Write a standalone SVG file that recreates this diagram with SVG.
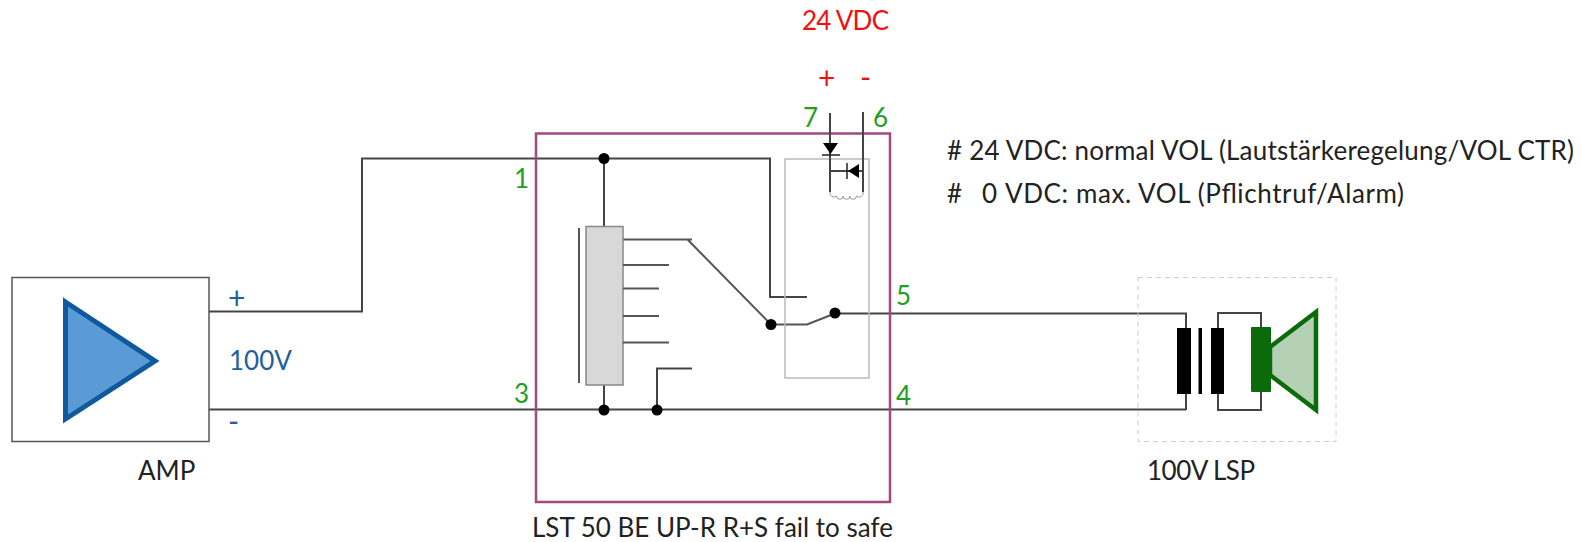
<svg xmlns="http://www.w3.org/2000/svg" width="1581" height="542" viewBox="0 0 1581 542">
<style>
text{font-family:"Lato","Carlito","Liberation Sans",sans-serif;font-size:26px;fill:#222}
.g{fill:#1ea01e}.r{fill:#f01010}.b{fill:#1f5f9f}
.big{font-size:30px}
.w{fill:none;stroke:#444;stroke-width:2}
.t{fill:none;stroke:#555;stroke-width:2}
.d{fill:#000}
</style>
<rect width="1581" height="542" fill="#fff"/>
<g id="connectors">
<path class="w" d="M209 311.500H362V158.500H770V297H807"/>
<path class="w" d="M209 409.500H1186"/>
<path class="w" d="M835 313.500H1186V328"/>
<path class="w" d="M1186 394V410"/>
<path class="w" d="M604 158.500V227"/>
<path class="w" d="M604 385V410"/>
<path class="w" d="M657 410V368.500H692"/>
<path class="t" d="M623 239.500H692M688 240L771 324.500H807L835 313.500"/>
<path class="w" d="M1218 328V313H1261V327M1218 394V410H1261V392"/>
<circle class="d" cx="604" cy="158.500" r="5.500"/>
<circle class="d" cx="604" cy="410" r="5.500"/>
<circle class="d" cx="657" cy="410" r="5.500"/>
<circle class="d" cx="771" cy="324.500" r="5.500"/>
<circle class="d" cx="835" cy="313" r="5.500"/>
</g>
<g id="amp">
<rect x="12" y="277.500" width="197" height="164" fill="#fff" stroke="#555" stroke-width="1.500"/>
<polygon points="65.500,302 155,361 65.500,419" fill="#5b9bd5" stroke="#0f5a9e" stroke-width="5"/>
<text x="138" y="480">AMP</text>
<text class="b big" x="228" y="309">+</text>
<text class="b" x="229" y="370">100V</text>
<text class="b big" x="228" y="432">-</text>
</g>
<g id="module">
<rect x="536" y="133.500" width="354" height="368.500" fill="none" stroke="#a3487e" stroke-width="2.500"/>
<text x="532" y="537">LST 50 BE UP-R R+S fail to safe</text>
<text class="g" x="514" y="188">1</text>
<text class="g" x="514" y="403">3</text>
<text class="g" x="896" y="305">5</text>
<text class="g" x="896" y="405">4</text>
</g>
<g id="contacts">
<rect x="586" y="226.500" width="37" height="158.500" fill="#d8d8d8" stroke="#888" stroke-width="1.500"/>
<path class="t" d="M579 228V383M623 265H669M623 288.500H659M623 316H659M623 342.500H669"/>
</g>
<g id="relay">
<rect x="785" y="159" width="84" height="219" fill="none" stroke="#bbb" stroke-width="1.500"/>
<path class="w" d="M830 113V192M863 112V192M830 171H863"/>
<path d="M830 192a4 4 0 0 0 6.600 4a3.300 3.300 0 0 0 6.600 0a3.300 3.300 0 0 0 6.600 0a3.300 3.300 0 0 0 6.600 0a4 4 0 0 0 6.600 -4" fill="none" stroke="#999" stroke-width="1"/>
<polygon class="d" points="823,143 838,143 830.500,154"/>
<path d="M822 155H840M847 163V179" stroke="#222" stroke-width="1.500" fill="none"/>
<polygon class="d" points="848,171 859,164 859,178"/>
<text class="g" x="803" y="127">7</text>
<text class="g" x="873" y="127">6</text>
</g>
<g id="supply">
<text class="r" x="802" y="30" textLength="87">24 VDC</text>
<text class="r big" x="818" y="89">+</text>
<text class="r big" x="860" y="88">-</text>
</g>
<g id="notes">
<text x="947" y="160" textLength="627">#  24 VDC: normal VOL (Lautstärkeregelung/VOL CTR)</text>
<text x="947" y="203">#</text><text x="982" y="203">0</text><text x="1005" y="203" textLength="399">VDC: max. VOL (Pflichtruf/Alarm)</text>
</g>
<g id="speaker">
<rect x="1138" y="277.500" width="198" height="164" fill="none" stroke="#ccc" stroke-width="1" stroke-dasharray="5 4"/>
<rect x="1177" y="328" width="14" height="66" fill="#000"/>
<rect x="1198.500" y="328" width="3.500" height="66" fill="#000"/>
<rect x="1211" y="328" width="13" height="66" fill="#000"/>
<polygon points="1270,347 1316,312 1316,410 1270,375" fill="#b5d1b5" stroke="#0b6b0b" stroke-width="4.500"/>
<rect x="1251" y="327" width="20" height="65" rx="1" fill="#0b6b0b"/>
<text x="1147" y="480" textLength="108">100V LSP</text>
</g>
</svg>
